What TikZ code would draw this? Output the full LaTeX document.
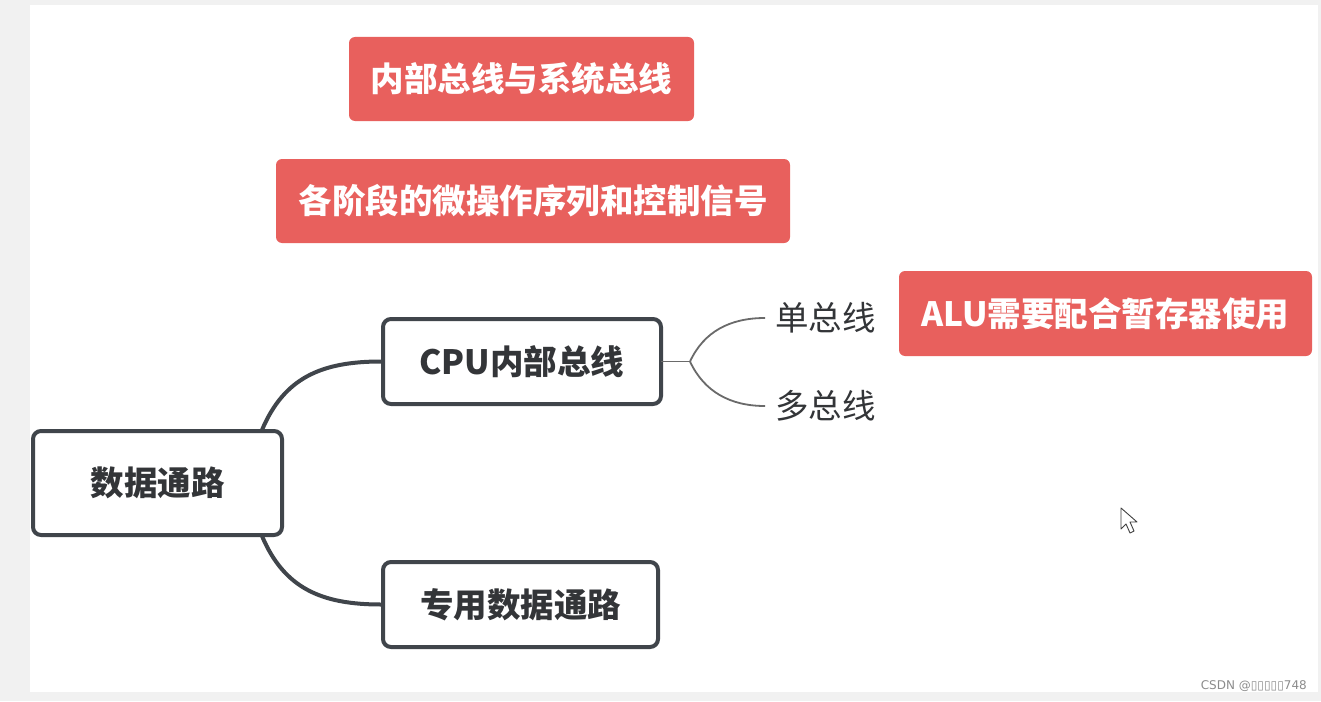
\documentclass[tikz,border=0pt]{standalone}
\usepackage{fontspec}
\setmainfont{Noto Sans CJK SC}
\newfontfamily\wmfont{DejaVu Sans}
\definecolor{redbox}{HTML}{E8605D}
\definecolor{darkline}{HTML}{40454B}
\definecolor{txt}{HTML}{333538}
\definecolor{thin}{HTML}{6A6A6A}
\definecolor{bggray}{HTML}{F1F1F1}
\tikzset{
  redtag/.style={fill=redbox, rounded corners=6pt, text=white, font=\fontsize{33.5}{37}\selectfont\bfseries, inner sep=0pt},
  mainbox/.style={draw=darkline, line width=4pt, rounded corners=8pt, fill=white, text=txt, font=\fontsize{33.5}{37}\selectfont\bfseries, inner sep=0pt},
  bigconn/.style={draw=darkline, line width=4pt},
  smallconn/.style={draw=thin, line width=1.8pt},
  leaf/.style={text=txt, font=\fontsize{33.5}{37}\selectfont, inner sep=0pt, anchor=west},
}
\begin{document}
\begin{tikzpicture}[x=1pt,y=-1pt]
\useasboundingbox (0,0) rectangle (1321,701);
\fill[bggray] (0,0) rectangle (1321,701);
\fill[white] (30,5) rectangle (1318,692);
% red tags
\node[redtag, minimum width=345pt, minimum height=84pt] (r1) at (521.5,79) {内部总线与系统总线};
\node[redtag, minimum width=514pt, minimum height=84pt] (r2) at (533,201) {各阶段的微操作序列和控制信号};
\node[redtag, minimum width=413pt, minimum height=85pt] (r3) at (1105.5,313.5) {ALU需要配合暂存器使用};
% main boxes
\node[mainbox, minimum width=249pt, minimum height=104pt] (dp) at (157.5,483) {数据通路};
\node[mainbox, minimum width=278pt, minimum height=85pt] (cpu) at (522,361.5) {CPU内部总线};
\node[mainbox, minimum width=275pt, minimum height=85pt] (zy) at (520.5,604.5) {专用数据通路};
% leaves
\node[leaf] (single) at (775,318) {单总线};
\node[leaf] (multi) at (775,406) {多总线};
% connectors
\draw[bigconn] ([xshift=-22pt,yshift=-1pt]dp.north east) .. controls +(22,-52) and +(-60,0) .. (cpu.west);
\draw[bigconn] ([xshift=-22pt,yshift=1pt]dp.south east) .. controls +(22,52) and +(-60,0) .. (zy.west);
\coordinate (fork) at ([xshift=27pt]cpu.east);
\draw[smallconn] ([xshift=-2pt]cpu.east) -- (fork);
\draw[smallconn] (fork) .. controls +(14,-30) and +(-35,0) .. ([xshift=-10pt]single.west);
\draw[smallconn] (fork) .. controls +(14,30) and +(-35,0) .. ([xshift=-10pt]multi.west);
% cursor
\filldraw[fill=white, draw=black!75, line width=0.9pt, line join=round]
  (1121,508) -- (1121,529) -- (1126,524) -- (1130,533) -- (1134,531) -- (1130,522) -- (1137,522) -- cycle;
% watermark
\node[text=black!45, font=\wmfont\fontsize{12}{14}\selectfont, anchor=east, inner sep=0pt] (wm) at (1307,686) {CSDN @▯▯▯▯▯748};
\end{tikzpicture}
\end{document}
